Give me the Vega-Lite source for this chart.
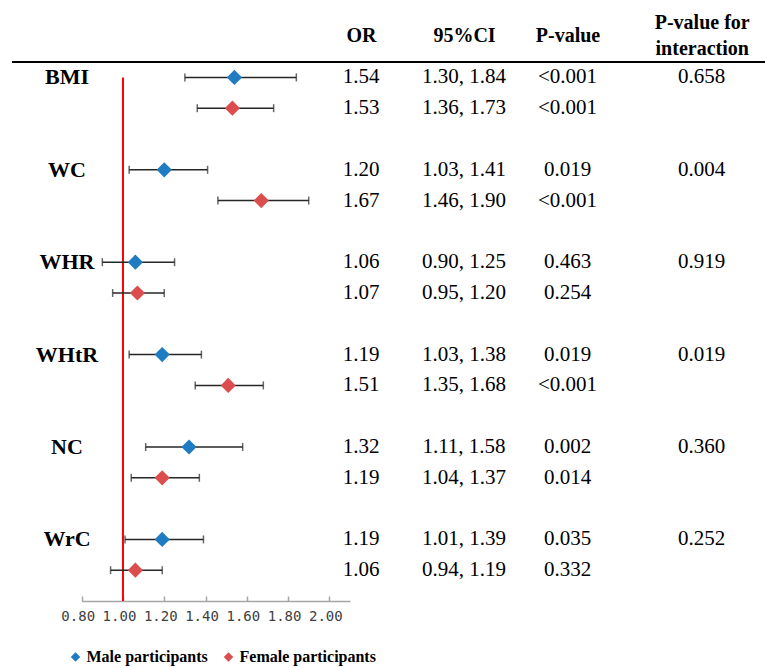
{
  "$schema": "https://vega.github.io/schema/vega-lite/v6.json",
  "width": 753,
  "height": 539,
  "autosize": {"type": "none"},
  "padding": {"left": 12, "top": 62, "right": 0, "bottom": 67},
  "background": "white",
  "config": {"view": {"stroke": null}, "font": "Liberation Serif"},
  "data": {
    "values": [
      {"measure": "BMI", "sex": "Male participants", "row": 0, "or": 1.54, "lo": 1.30, "hi": 1.84, "ci": "1.30, 1.84", "p": "<0.001", "pint": "0.658"},
      {"measure": "BMI", "sex": "Female participants", "row": 1, "or": 1.53, "lo": 1.36, "hi": 1.73, "ci": "1.36, 1.73", "p": "<0.001", "pint": ""},
      {"measure": "WC", "sex": "Male participants", "row": 3, "or": 1.20, "lo": 1.03, "hi": 1.41, "ci": "1.03, 1.41", "p": "0.019", "pint": "0.004"},
      {"measure": "WC", "sex": "Female participants", "row": 4, "or": 1.67, "lo": 1.46, "hi": 1.90, "ci": "1.46, 1.90", "p": "<0.001", "pint": ""},
      {"measure": "WHR", "sex": "Male participants", "row": 6, "or": 1.06, "lo": 0.90, "hi": 1.25, "ci": "0.90, 1.25", "p": "0.463", "pint": "0.919"},
      {"measure": "WHR", "sex": "Female participants", "row": 7, "or": 1.07, "lo": 0.95, "hi": 1.20, "ci": "0.95, 1.20", "p": "0.254", "pint": ""},
      {"measure": "WHtR", "sex": "Male participants", "row": 9, "or": 1.19, "lo": 1.03, "hi": 1.38, "ci": "1.03, 1.38", "p": "0.019", "pint": "0.019"},
      {"measure": "WHtR", "sex": "Female participants", "row": 10, "or": 1.51, "lo": 1.35, "hi": 1.68, "ci": "1.35, 1.68", "p": "<0.001", "pint": ""},
      {"measure": "NC", "sex": "Male participants", "row": 12, "or": 1.32, "lo": 1.11, "hi": 1.58, "ci": "1.11, 1.58", "p": "0.002", "pint": "0.360"},
      {"measure": "NC", "sex": "Female participants", "row": 13, "or": 1.19, "lo": 1.04, "hi": 1.37, "ci": "1.04, 1.37", "p": "0.014", "pint": ""},
      {"measure": "WrC", "sex": "Male participants", "row": 15, "or": 1.19, "lo": 1.01, "hi": 1.39, "ci": "1.01, 1.39", "p": "0.035", "pint": "0.252"},
      {"measure": "WrC", "sex": "Female participants", "row": 16, "or": 1.06, "lo": 0.94, "hi": 1.19, "ci": "0.94, 1.19", "p": "0.332", "pint": ""}
    ]
  },
  "layer": [
    {
      "layer": [
        {
          "data": {"values": [{"ref": 1}]},
          "mark": {"type": "rule", "color": "#FF0000", "strokeWidth": 2},
          "encoding": {
            "x": {"field": "ref", "type": "quantitative", "scale": {"domain": [0.8, 2.1], "range": [69.7, 338], "nice": false, "zero": false},
              "axis": {"orient": "bottom", "values": [0.8, 1, 1.2, 1.4, 1.6, 1.8, 2], "format": ".2f", "title": null, "grid": false, "domainColor": "#A6A6A6", "domainWidth": 1.5, "tickColor": "#A6A6A6", "tickWidth": 1.5, "tickSize": -5, "labelFont": "DejaVu Sans Mono", "labelFontSize": 14, "labelColor": "#404040", "labelPadding": 13, "labelOffset": -4, "labelFlush": false, "labelOverlap": false}},
            "y": {"datum": 0, "type": "quantitative", "scale": {"domain": [-0.5, 17], "reverse": true, "nice": false, "zero": false}, "axis": null},
            "y2": {"datum": 17}
          }
        },
        {
          "mark": {"type": "rule", "color": "#262626", "strokeWidth": 1.5},
          "encoding": {
            "x": {"field": "lo", "type": "quantitative"},
            "x2": {"field": "hi"},
            "y": {"field": "row", "type": "quantitative"}
          }
        },
        {
          "mark": {"type": "tick", "orient": "vertical", "color": "#262626", "thickness": 1.5, "size": 8},
          "encoding": {
            "x": {"field": "lo", "type": "quantitative"},
            "y": {"field": "row", "type": "quantitative"}
          }
        },
        {
          "mark": {"type": "tick", "orient": "vertical", "color": "#262626", "thickness": 1.5, "size": 8},
          "encoding": {
            "x": {"field": "hi", "type": "quantitative"},
            "y": {"field": "row", "type": "quantitative"}
          }
        },
        {
          "mark": {"type": "point", "shape": "diamond", "filled": true, "size": 230, "opacity": 1},
          "encoding": {
            "x": {"field": "or", "type": "quantitative"},
            "y": {"field": "row", "type": "quantitative"},
            "color": {"field": "sex", "type": "nominal",
              "scale": {"domain": ["Male participants", "Female participants"], "range": ["#1F7BC2", "#DB4E4D"]},
              "legend": {"orient": "none", "legendX": 55.5, "legendY": 587, "direction": "horizontal", "title": null, "symbolType": "diamond", "symbolSize": 90, "symbolStrokeWidth": 0, "labelFont": "Liberation Serif", "labelFontWeight": "bold", "labelFontSize": 16, "labelColor": "black", "columnPadding": 12, "labelOffset": 3, "padding": 0}}
          }
        }
      ]
    },
    {
      "layer": [
        {
          "data": {"values": [{"line": "header"}]},
          "mark": {"type": "rule", "color": "black", "strokeWidth": 2},
          "encoding": {
            "y": {"datum": -0.5, "type": "quantitative"}
          }
        },
        {
          "transform": [{"filter": "datum.sex == 'Male participants'"}],
          "mark": {"type": "text", "fontWeight": "bold", "fontSize": 22, "align": "center", "baseline": "middle", "color": "black"},
          "encoding": {
            "x": {"datum": 0, "type": "quantitative", "scale": {"domain": [0, 1, 2, 3, 4], "range": [55, 349, 452, 555.5, 689.7], "nice": false, "zero": false},
              "axis": {"orient": "top", "values": [1, 2, 3, 4], "labelExpr": "datum.value == 1 ? 'OR' : datum.value == 2 ? '95%CI' : datum.value == 3 ? 'P-value' : ['P-value for', 'interaction']", "title": null, "domain": false, "ticks": false, "grid": false, "labelFont": "Liberation Serif", "labelFontWeight": "bold", "labelFontSize": 20, "labelColor": "black", "labelBaseline": "middle", "labelPadding": {"condition": {"test": "datum.value == 4", "value": 40}, "value": 27}, "labelLineHeight": 26, "labelFlush": false, "labelOverlap": false, "labelBound": false}},
            "y": {"field": "row", "type": "quantitative"},
            "text": {"field": "measure"}
          }
        },
        {
          "mark": {"type": "text", "fontSize": 21, "align": "center", "baseline": "middle", "color": "black"},
          "encoding": {
            "x": {"datum": 1, "type": "quantitative"},
            "y": {"field": "row", "type": "quantitative"},
            "text": {"field": "or", "type": "quantitative", "format": ".2f"}
          }
        },
        {
          "mark": {"type": "text", "fontSize": 21, "align": "center", "baseline": "middle", "color": "black"},
          "encoding": {
            "x": {"datum": 2, "type": "quantitative"},
            "y": {"field": "row", "type": "quantitative"},
            "text": {"field": "ci"}
          }
        },
        {
          "mark": {"type": "text", "fontSize": 21, "align": "center", "baseline": "middle", "color": "black"},
          "encoding": {
            "x": {"datum": 3, "type": "quantitative"},
            "y": {"field": "row", "type": "quantitative"},
            "text": {"field": "p"}
          }
        },
        {
          "mark": {"type": "text", "fontSize": 21, "align": "center", "baseline": "middle", "color": "black"},
          "encoding": {
            "x": {"datum": 4, "type": "quantitative"},
            "y": {"field": "row", "type": "quantitative"},
            "text": {"field": "pint"}
          }
        }
      ]
    }
  ],
  "resolve": {"scale": {"x": "independent"}, "axis": {"x": "independent"}}
}
